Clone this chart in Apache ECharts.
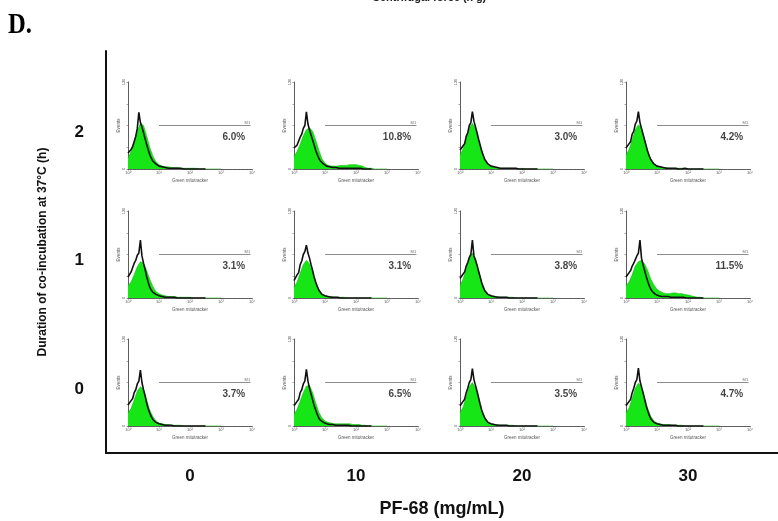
<!DOCTYPE html>
<html>
<head>
<meta charset="utf-8">
<script src="https://cdn.jsdelivr.net/npm/echarts@6/dist/echarts.min.js"></script>
<style>
  html, body { margin: 0; padding: 0; background: #fff; }
  #chart { width: 778px; height: 521px; }
</style>
</head>
<body>
<div id="chart"></div>
<script>
// Fluorescence channel bins, in log10 decades
const decades = [0, 0.1, 0.2, 0.3, 0.4, 0.5, 0.6, 0.7, 0.8, 0.9, 1.0, 1.1, 1.2, 1.3, 1.4, 1.5,
                 1.6, 1.7, 1.8, 1.9, 2.0, 2.1, 2.2, 2.3, 2.4, 2.5, 2.6, 2.7, 2.8, 2.9, 3.0];
// Finer bins used for the control trace
const fineDecades = [0, 0.05, 0.1, 0.15, 0.2, 0.25, 0.3, 0.35, 0.4, 0.45, 0.5, 0.55, 0.6, 0.65, 0.7,
                     0.75, 0.8, 0.85, 0.9, 0.95, 1.0, 1.05, 1.1, 1.15, 1.2, 1.25, 1.3, 1.35, 1.4, 1.45,
                     1.5, 1.55, 1.6, 1.65, 1.7, 1.75, 1.8, 1.85, 1.9, 1.95, 2.0, 2.05, 2.1, 2.15, 2.2,
                     2.25, 2.3, 2.35, 2.4, 2.45, 2.5];
const decadeTicks = ['10\u2070', '10\u00b9', '10\u00b2', '10\u00b3', '10\u2074'];

// Column / row categories
const doses = ['0', '10', '20', '30'];          // PF-68 (mg/mL)
const durations = ['0', '1', '2'];              // hours, bottom to top

// Percentage of events inside the M1 gate, one entry per dose
const gate2h = ['6.0%', '10.8%', '3.0%', '4.2%'];
const gate1h = ['3.1%', '3.1%', '3.8%', '11.5%'];
const gate0h = ['3.7%', '6.5%', '3.5%', '4.7%'];

// Stained sample (green fill), events per 0.1-decade bin
const stained2h = [
  [15,24,38,52,63,60,46,30,18,10,6,4,3,3,2,2,2,1,1,1,1,1,1,0,0,0,0,0,0,0,0],
  [17,24,34,46,54,57,52,40,26,14,8,5,4,4,4,5,5,5,6,6,6,5,4,2,1,1,0,0,0,0,0],
  [19,28,42,56,63,55,38,22,11,5,3,2,2,1,1,1,1,1,1,0,1,0,0,0,0,0,0,0,0,0,0],
  [19,27,40,54,61,56,40,24,13,7,4,3,2,2,1,1,1,1,1,1,0,0,0,0,0,0,0,0,0,0,0]
];
const stained1h = [
  [17,22,32,43,50,48,38,26,16,9,6,4,3,2,2,2,1,1,1,1,1,0,0,0,0,0,0,0,0,0,0],
  [15,22,34,46,52,47,35,21,11,6,3,2,2,1,1,1,1,0,0,0,0,0,0,0,0,0,0,0,0,0,0],
  [17,26,40,55,62,54,38,22,11,5,3,2,2,1,1,1,1,1,0,0,0,0,0,0,0,0,0,0,0,0,0],
  [17,22,32,44,50,52,47,38,26,18,12,9,7,6,6,7,7,6,6,5,4,3,2,1,1,0,0,0,0,0,0]
];
const stained0h = [
  [18,24,36,48,54,50,36,22,13,7,4,3,2,2,1,1,1,1,0,0,0,0,0,0,0,0,0,0,0,0,0],
  [16,23,34,46,55,56,46,32,19,11,7,5,4,3,3,3,3,3,3,2,2,2,1,1,0,0,0,0,0,0,0],
  [18,26,40,54,60,52,36,21,11,6,3,2,2,1,1,1,1,1,0,0,0,0,0,0,0,0,0,0,0,0,0],
  [18,25,38,52,59,54,39,24,13,7,4,3,2,2,2,1,1,1,1,0,0,0,0,0,0,0,0,0,0,0,0]
];

// Control overlay (black trace), events per 0.05-decade bin
const control2h = [
  [22,20,27,31,38,45,56,78,64,58,50,42,34,27,20,15,11,9,7,5,4,4,3,2,2,2,1,2,1,1,1,1,1,0,1,1,0,1,0,0,0,0,0,0,0,0,0,0,0,0,0],
  [29,27,33,35,44,48,56,60,79,62,54,47,40,33,26,20,15,11,9,7,5,4,4,3,3,2,2,2,2,1,2,1,1,1,1,1,1,1,1,1,1,1,0,1,0,0,0,0,0,0,0],
  [26,24,32,35,45,50,60,64,79,66,58,50,41,33,25,19,13,10,7,5,4,3,3,2,2,2,1,1,1,1,1,1,1,0,1,0,1,0,0,1,0,0,0,0,0,0,0,0,0,0,0],
  [29,27,35,38,48,52,62,66,79,64,56,48,40,32,24,18,13,10,7,6,4,3,3,2,2,2,1,1,1,1,1,1,1,1,0,1,0,0,1,0,0,0,0,0,0,0,0,0,0,0,0]
];
const control1h = [
  [29,27,36,38,48,52,59,62,80,58,48,40,30,22,15,11,8,6,5,4,3,3,2,2,1,1,1,1,1,1,1,1,0,1,0,0,0,1,0,0,0,0,0,0,0,0,0,0,0,0,0],
  [24,23,32,35,46,51,60,64,73,62,55,46,38,29,22,16,11,8,5,4,3,3,2,2,1,1,1,1,1,1,0,1,0,0,0,0,0,0,0,0,0,0,0,0,0,0,0,0,0,0,0],
  [27,26,33,36,44,49,56,60,80,58,52,45,37,29,21,15,10,8,5,4,3,3,2,2,1,1,1,1,1,1,1,1,0,1,0,0,0,0,0,0,0,0,0,0,0,0,0,0,0,0,0],
  [29,28,35,38,44,48,53,58,62,80,55,46,38,30,23,17,12,9,7,5,4,3,3,2,2,2,1,2,1,1,1,1,1,1,1,1,0,1,0,0,0,0,0,0,0,0,0,0,0,0,0]
];
const control0h = [
  [29,27,35,38,46,50,58,62,77,60,50,42,32,24,18,13,9,7,5,4,3,3,2,2,1,1,1,1,1,1,0,1,0,0,0,0,0,0,0,0,0,0,0,0,0,0,0,0,0,0,0],
  [28,26,34,37,46,50,58,62,78,62,52,44,36,28,22,16,11,8,6,5,4,3,3,2,2,2,2,1,1,1,1,1,1,1,1,1,1,0,1,0,0,0,0,0,0,0,0,0,0,0,0],
  [28,26,34,37,46,52,60,64,79,64,56,48,39,30,22,16,11,8,5,4,3,3,2,2,1,1,1,1,1,0,1,0,0,0,0,0,0,0,0,0,0,0,0,0,0,0,0,0,0,0,0],
  [28,26,34,37,46,52,60,64,80,62,54,46,37,28,21,15,10,8,5,4,3,3,2,2,1,1,1,1,1,1,1,0,1,0,0,0,0,0,0,0,0,0,0,0,0,0,0,0,0,0,0]
];

// M1 gate: from 10^1 to the top of the scale, drawn at this count level
const gateRange = [1, 3.95];
const gateLevel = 60;

const FONT = '"Liberation Sans", Arial, sans-serif';

// Panel layout (pixels)
const colLeft = [128, 294, 460, 626];
const panelW = 124, panelH = 87;
const rows = [
  { top: 82,  stained: stained2h, control: control2h, gate: gate2h },
  { top: 211, stained: stained1h, control: control1h, gate: gate1h },
  { top: 339, stained: stained0h, control: control0h, gate: gate0h }
];

const grid = [], xAxis = [], yAxis = [], series = [];
const toPairs = (xs, vals) => xs.map((d, k) => [d, vals[k]]);

rows.forEach(row => {
  colLeft.forEach((left, c) => {
    const i = grid.length;
    grid.push({ left: left, top: row.top, width: panelW, height: panelH, outerBoundsMode: 'none' });
    xAxis.push({
      gridIndex: i, type: 'value', min: 0, max: 4, interval: 1,
      axisLine: { lineStyle: { color: '#333', width: 0.8 } },
      axisTick: { length: 1.5, lineStyle: { color: '#555', width: 0.5 } },
      minorTick: { show: true, splitNumber: 8, length: 1, lineStyle: { color: '#777', width: 0.5 } },
      axisLabel: { fontSize: 4, color: '#555', margin: 2, fontFamily: FONT,
                   formatter: v => decadeTicks[v] },
      splitLine: { show: false },
      name: 'Green mitotracker', nameLocation: 'middle', nameGap: 9,
      nameTextStyle: { fontSize: 4.5, color: '#555', fontFamily: FONT }
    });
    yAxis.push({
      gridIndex: i, type: 'value', min: 0, max: 120, interval: 30,
      axisLine: { show: true, lineStyle: { color: '#333', width: 0.8 } },
      axisTick: { show: true, length: 1.5, lineStyle: { color: '#555', width: 0.5 } },
      axisLabel: { fontSize: 4, color: '#555', margin: 2, rotate: 90, fontFamily: FONT,
                   customValues: [0, 120] },
      splitLine: { show: false },
      name: 'Events', nameLocation: 'middle', nameRotate: 90, nameGap: 5,
      nameTextStyle: { fontSize: 4.5, color: '#555', fontFamily: FONT }
    });
    series.push({
      type: 'line', xAxisIndex: i, yAxisIndex: i, data: toPairs(decades, row.stained[c]),
      symbol: 'none', silent: true, z: 2,
      lineStyle: { width: 0.6, color: '#0bb80b' },
      areaStyle: { color: '#16e616', opacity: 1 }
    });
    series.push({
      type: 'line', xAxisIndex: i, yAxisIndex: i, data: toPairs(fineDecades, row.control[c]),
      symbol: 'none', silent: true, z: 3,
      lineStyle: { width: 1.6, color: '#111' }
    });
    series.push({
      type: 'line', xAxisIndex: i, yAxisIndex: i,
      data: [[gateRange[0], gateLevel], [gateRange[1], gateLevel]],
      symbol: 'none', silent: true, z: 4,
      lineStyle: { width: 1, color: '#8c8c8c' }
    });
    series.push({
      type: 'scatter', xAxisIndex: i, yAxisIndex: i, symbolSize: 0, silent: true, z: 5,
      data: [
        { value: [3.78, 44], label: { show: true, position: 'left', distance: 0,
            formatter: row.gate[c], fontSize: 10, fontWeight: 'bold', color: '#111', fontFamily: FONT } },
        { value: [3.85, gateLevel], label: { show: true, position: 'top', distance: 1,
            formatter: 'M1', fontSize: 4, color: '#444', fontFamily: FONT } }
      ]
    });
  });
});

// Outer frame: doses along the bottom, incubation time up the side
const outer = grid.length;
grid.push({ left: 106, top: 51, width: 672, height: 402, outerBoundsMode: 'none' });
xAxis.push({
  gridIndex: outer, type: 'value', min: -0.506, max: 3.542,
  axisLine: { onZero: false, lineStyle: { color: '#111', width: 2 } },
  axisTick: { show: false }, splitLine: { show: false },
  axisLabel: { customValues: [0, 1, 2, 3], formatter: v => doses[v], margin: 15,
               fontSize: 17, fontWeight: 'bold', color: '#111', fontFamily: FONT },
  name: 'PF-68 (mg/mL)', nameLocation: 'middle', nameGap: 47,
  nameTextStyle: { fontSize: 18, fontWeight: 'bold', color: '#111', fontFamily: FONT }
});
yAxis.push({
  gridIndex: outer, type: 'value', min: -0.498, max: 2.631,
  axisLine: { show: true, onZero: false, lineStyle: { color: '#111', width: 2 } },
  axisTick: { show: false }, splitLine: { show: false },
  axisLabel: { customValues: [0, 1, 2], formatter: v => durations[v], margin: 22,
               fontSize: 17, fontWeight: 'bold', color: '#111', fontFamily: FONT },
  name: 'Duration of co-incubation at 37\u00b0C (h)', nameLocation: 'middle', nameRotate: 90, nameGap: 57,
  nameTextStyle: { fontSize: 12, fontWeight: 'bold', color: '#111', fontFamily: FONT }
});

const chart = echarts.init(document.getElementById('chart'), null, { renderer: 'canvas' });
chart.setOption({
  backgroundColor: '#fff',
  animation: false,
  grid, xAxis, yAxis, series,
  graphic: [
    { type: 'text', left: 8, top: 11, scaleX: 0.85,
      style: { text: 'D.', font: 'bold 29px "Liberation Serif", "Times New Roman", serif', fill: '#000' } },
    { type: 'text', left: 372, top: -8,
      style: { text: 'Centrifugal force (x g)', font: 'bold 11px ' + FONT, fill: '#222' } }
  ]
});
</script>
</body>
</html>
